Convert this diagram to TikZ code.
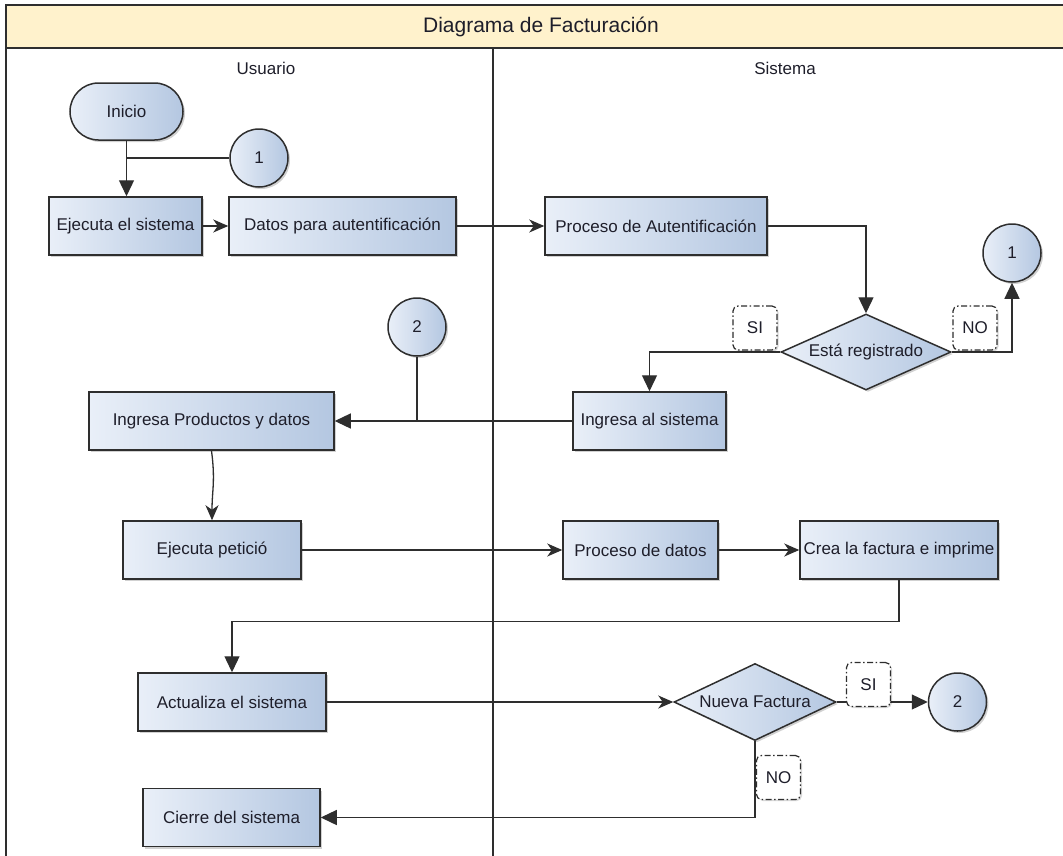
\documentclass[tikz,border=0pt]{standalone}
\usepackage{fontspec}
\setmainfont{Liberation Sans}
\usetikzlibrary{arrows.meta,shapes.geometric,shapes.misc,shadows}

\definecolor{boxL}{HTML}{E9EFF8}
\definecolor{boxR}{HTML}{B4C7E1}
\definecolor{edge}{HTML}{2E2E2E}
\definecolor{band}{HTML}{FFF2CC}
\definecolor{ink}{HTML}{1E1E2A}

\tikzset{
  txt/.style={font=\fontsize{17}{20}\selectfont, text=ink},
  base/.style={txt, draw=edge, line width=1.5pt, left color=boxL, right color=boxR,
    inner sep=0pt,
    drop shadow={shadow xshift=2pt, shadow yshift=-2pt, opacity=0.18, fill=black}},
  proc/.style={base, rectangle, minimum height=58pt},
  term/.style={base, rounded rectangle, minimum width=113pt, minimum height=57pt},
  circ/.style={base, circle, minimum size=58pt},
  dec/.style={base, diamond, shape aspect=2.2},
  lbl/.style={txt, draw=edge, line width=1.2pt, fill=white, rounded corners=5pt,
    dash pattern=on 6pt off 2.5pt on 1.5pt off 2.5pt,
    minimum width=44pt, minimum height=44pt, inner sep=0pt,
    drop shadow={shadow xshift=1.5pt, shadow yshift=-1.5pt, opacity=0.15, fill=black}},
  conn/.style={draw=edge, line width=1.3pt},
  blk/.style={conn, -{Triangle[length=16pt,width=15pt]}},
  cls/.style={conn, -{Stealth[length=15pt,width=13pt,inset=4.5pt]}},
}

\begin{document}
\begin{tikzpicture}[x=1pt, y=-1pt]
\useasboundingbox (0,0) rectangle (1063,855);
\clip (0,0) rectangle (1063,855);

% pool frame: title band and two lanes
\draw[line width=1.5pt, draw=edge, fill=band] (6,5) rectangle (1076,48);
\node[font=\fontsize{21}{24}\selectfont, text=ink] (title) at (541,27) {Diagrama de Facturación};
\draw[line width=1.4pt, draw=edge] (6,48) -- (6,860);
\draw[line width=1.4pt, draw=edge] (493,48) -- (493,860);
\draw[line width=1.4pt, draw=edge] (1076,48) -- (1076,860);
\node[txt] (lane1) at (266,68) {Usuario};
\node[txt] (lane2) at (785,68) {Sistema};

% process nodes
\node[term] (inicio) at (126.5,111.5) {Inicio};
\node[circ] (c1a) at (259,158) {1};
\node[proc, minimum width=153pt] (ejec) at (125.5,226) {Ejecuta el sistema};
\node[proc, minimum width=227pt] (datos) at (342.5,226) {Datos para autentificación};
\node[proc, minimum width=222pt] (procaut) at (656,226) {Proceso de Autentificación};
\node[circ] (c1b) at (1012,253) {1};
\node[dec, minimum width=170pt, minimum height=76pt] (reg) at (866,352) {Está registrado};
\node[circ] (c2a) at (417,327) {2};
\node[proc, minimum width=245pt] (ingprod) at (211.5,421) {Ingresa Productos y datos};
\node[proc, minimum width=153pt] (ingsis) at (649.5,421) {Ingresa al sistema};
\node[proc, minimum width=178pt] (ejpet) at (212,550) {Ejecuta petició};
\node[proc, minimum width=155pt] (procdat) at (640.5,550) {Proceso de datos};
\node[proc, minimum width=198pt] (crea) at (899,550) {Crea la factura e imprime};
\node[proc, minimum width=188pt] (actual) at (232,702) {Actualiza el sistema};
\node[dec, minimum width=162pt, minimum height=77pt] (nueva) at (755,702) {Nueva Factura};
\node[circ] (c2b) at (957.5,702) {2};
\node[proc, minimum width=177pt] (cierre) at (231.5,817.5) {Cierre del sistema};

% connectors
\draw[blk] (inicio.south) -- (inicio.south |- ejec.north);
\draw[conn] (c1a.west) -- (c1a.west -| inicio.south);
\draw[cls] (ejec.east) -- (datos.west);
\draw[cls] (datos.east) -- (procaut.west);
\draw[blk] (procaut.east) -| (reg.north);
\draw[blk] (reg.west) -| (ingsis.north);
\draw[blk] (reg.east) -| (c1b.south);
\draw[blk] (ingsis.west) -- (ingprod.east);
\draw[conn] (c2a.south) -- (c2a.south |- ingprod.east);
\draw[cls] (ingprod.south) .. controls +(4,30) and +(0,-30) .. (ejpet.north);
\draw[cls] (ejpet.east) -- (procdat.west);
\draw[cls] (procdat.east) -- (crea.west);
\draw[blk] (crea.south) -- ++(0,42) -| (actual.north);
\draw[cls] (actual.east) -- (nueva.west);
\draw[blk] (nueva.east) -- (c2b.west);
\draw[blk] (nueva.south) |- (cierre.east);

% branch labels
\node[lbl] (si1) at (755,328) {SI};
\node[lbl] (no1) at (975,328) {NO};
\node[lbl] (si2) at (868.5,684.5) {SI};
\node[lbl] (no2) at (778.5,777.5) {NO};
\end{tikzpicture}
\end{document}
